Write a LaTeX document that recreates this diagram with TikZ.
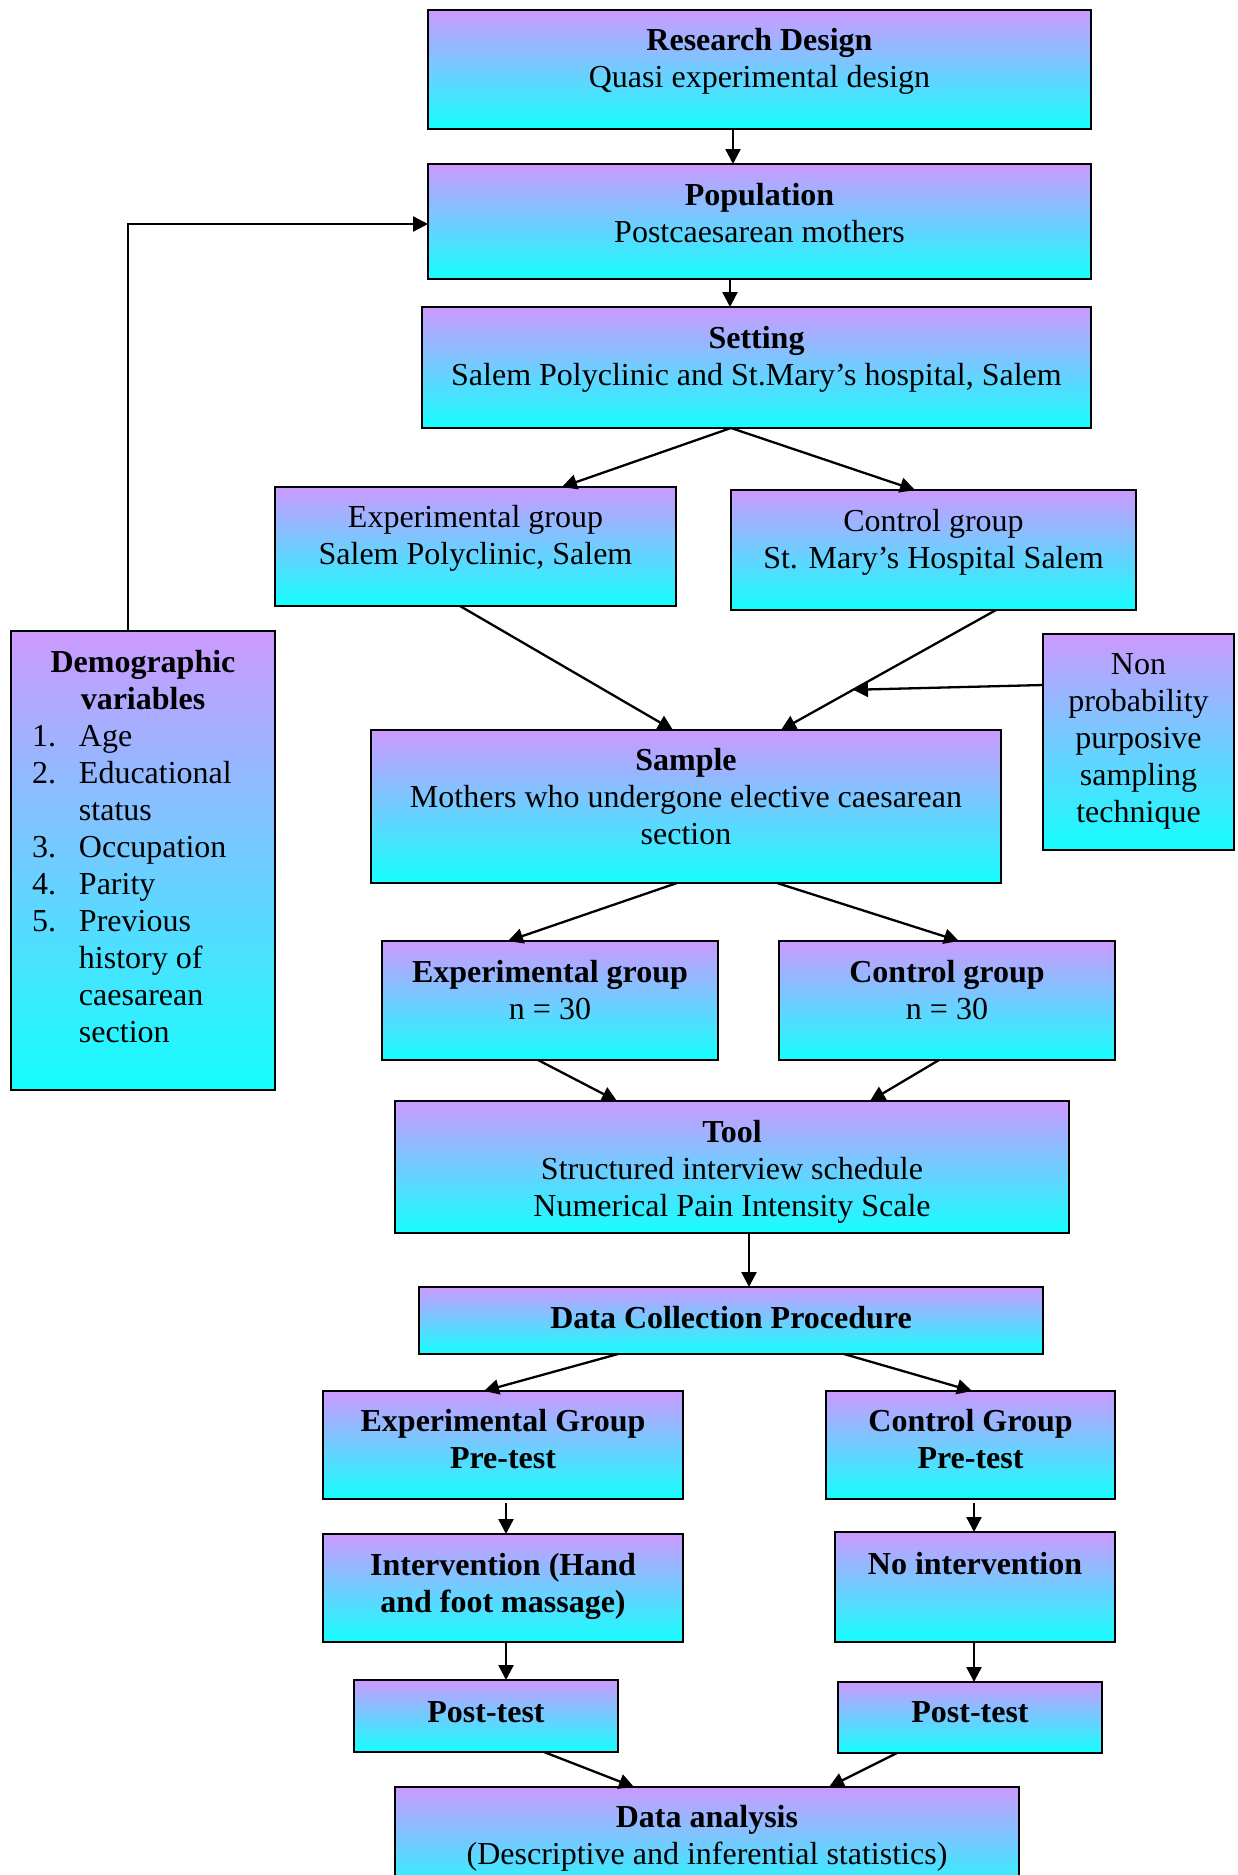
\documentclass[tikz,border=0pt]{standalone}
\usepackage{fontspec}
\setmainfont{Liberation Serif}
\usetikzlibrary{arrows.meta,calc}
\definecolor{purp}{RGB}{204,153,255}
\definecolor{cyn}{RGB}{20,255,255}
\tikzset{
  boxst/.style={draw=black, line width=2pt, top color=purp, bottom color=cyn, inner sep=0pt, outer sep=0pt},
  txt/.style={inner sep=0pt, outer sep=0pt, anchor=north, align=center, font=\fontsize{32}{37}\selectfont},
  arr/.style={-{Triangle[length=15pt,width=15pt]}, line width=2.3pt},
  ln/.style={line width=2.3pt}
}
\newcommand\bx[5]{\node[boxst, minimum width={(#4-#2)*1pt}, minimum height={(#5-#3)*1pt}] (#1) at ({(#2+#4)/2},{(#3+#5)/2}) {};}
\newcommand\tx[4]{\node[txt] (#1) at (#2,{#3-25.9}) {\strut #4};}
\begin{document}
\begin{tikzpicture}[x=1pt,y=-1pt]
\useasboundingbox (0,0) rectangle (1238,1875);
% boxes
\bx{rd}{428}{10}{1091}{129}
\bx{pop}{428}{164}{1091}{279}
\bx{set}{422}{307}{1091}{428}
\bx{expa}{275}{487}{676}{606}
\bx{ctla}{731}{490}{1136}{610}
\bx{demog}{11}{631}{275}{1090}
\bx{np}{1043}{634}{1234}{850}
\bx{smp}{371}{730}{1001}{883}
\bx{expn}{382}{941}{718}{1060}
\bx{ctln}{779}{941}{1115}{1060}
\bx{tool}{395}{1101}{1069}{1233}
\bx{dc}{419}{1287}{1043}{1354}
\bx{ep}{323}{1391}{683}{1499}
\bx{cp}{826}{1391}{1115}{1499}
\bx{int}{323}{1534}{683}{1642}
\bx{noint}{835}{1532}{1115}{1642}
\bx{postl}{354}{1680}{618}{1752}
\bx{postr}{838}{1682}{1102}{1753}
\bx{da}{395}{1787}{1019}{1900}
% texts
\tx{rdt}{759.5}{50}{\textbf{Research Design}\\Quasi experimental design}
\tx{popt}{759.5}{205.5}{\textbf{Population}\\Postcaesarean mothers}
\tx{sett}{756.5}{348}{\textbf{Setting}\\Salem Polyclinic and St.Mary’s hospital, Salem}
\tx{expat}{475.5}{527}{Experimental group\\Salem Polyclinic, Salem}
\tx{ctlat}{933.5}{531}{Control group\\St. Mary’s Hospital Salem}
\tx{demogt}{143}{672}{\textbf{Demographic}\\\textbf{variables}}
\node[txt, anchor=north west, align=left] (demogl) at (32,{746-25.9}) {\begin{tabular}{@{}p{47pt}@{}l@{}}
1. & Age\\ 2. & Educational\\ & status\\ 3. & Occupation\\ 4. & Parity\\ 5. & Previous\\ & history of\\ & caesarean\\ & section
\end{tabular}};
\tx{npt}{1138.5}{674.5}{Non\\probability\\purposive\\sampling\\technique}
\tx{smpt}{686}{770}{\textbf{Sample}\\Mothers who undergone elective caesarean\\section}
\tx{expnt}{550}{982}{\textbf{Experimental group}\\n = 30}
\tx{ctlnt}{947}{982}{\textbf{Control group}\\n = 30}
\tx{toolt}{732}{1142}{\textbf{Tool}\\Structured interview schedule\\Numerical Pain Intensity Scale}
\tx{dct}{731}{1328}{\textbf{Data Collection Procedure}}
\tx{ept}{503}{1431}{\textbf{Experimental Group}\\\textbf{Pre-test}}
\tx{cpt}{970.5}{1431}{\textbf{Control Group}\\\textbf{Pre-test}}
\tx{intt}{503}{1575}{\textbf{Intervention (Hand}\\\textbf{and foot massage)}}
\tx{nointt}{975}{1574}{\textbf{No intervention}}
\tx{postlt}{486}{1722}{\textbf{Post-test}}
\tx{postrt}{970}{1722}{\textbf{Post-test}}
\tx{dat}{707}{1827.5}{\textbf{Data analysis}\\(Descriptive and inferential statistics)}
% connectors
\draw[arr] ([xshift=-26.5pt]rd.south) -- ([xshift=-26.5pt]pop.north);
\draw[arr] ([xshift=-29.5pt]pop.south) -- ([xshift=-26.5pt]set.north);
\draw[arr] ([xshift=-25.5pt]set.south) -- ([xshift=86.5pt]expa.north);
\draw[arr] ([xshift=-25.5pt]set.south) -- ([xshift=-18.5pt]ctla.north);
\draw[arr] ([xshift=-15.5pt]expa.south) -- ([xshift=-13pt]smp.north);
\draw[arr] ([xshift=62.5pt]ctla.south) -- ([xshift=95pt]smp.north);
\coordinate (npend) at ($([xshift=62.5pt]ctla.south)!0.665!([xshift=95pt]smp.north)$);
\draw[arr] ([yshift=57pt]np.west) -- (npend);
\draw[arr] ([xshift=-15pt]demog.north) |- ([yshift=-2.5pt]pop.west);
\draw[arr] ([xshift=-9pt]smp.south) -- ([xshift=-42pt]expn.north);
\draw[arr] ([xshift=91pt]smp.south) -- ([xshift=12pt]ctln.north);
\draw[arr] ([xshift=-12pt]expn.south) -- ([xshift=-115pt]tool.north);
\draw[arr] ([xshift=-8pt]ctln.south) -- ([xshift=138pt]tool.north);
\draw[arr] ([xshift=17pt]tool.south) -- ([xshift=18pt]dc.north);
\draw[arr] ([xshift=-113pt]dc.south) -- ([xshift=-19pt]ep.north);
\draw[arr] ([xshift=113pt]dc.south) -- ([xshift=1.5pt]cp.north);
\draw[arr] ([xshift=3pt,yshift=-4pt]ep.south) -- ([xshift=3pt]int.north);
\draw[arr] ([xshift=3pt]int.south) -- ([xshift=20pt]postl.north);
\draw[arr] ([xshift=3.5pt,yshift=-4pt]cp.south) -- ([xshift=-1pt]noint.north);
\draw[arr] ([xshift=-1pt]noint.south) -- ([xshift=4pt]postr.north);
\draw[arr] ([xshift=58pt]postl.south) -- ([xshift=-73pt]da.north);
\draw[arr] ([xshift=-73pt]postr.south) -- ([xshift=122pt]da.north);
\end{tikzpicture}
\end{document}
